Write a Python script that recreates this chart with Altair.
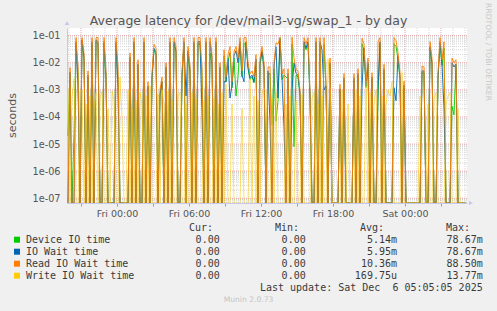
import altair as alt
import pandas as pd

# ---------------- data (10-minute samples, index 0 = Thu 19:50) ----------------
start_hour = -50 / 12          # hours relative to Fri 00:00
step_hours = 10 / 60
n_samples = 200

# (sample index, seconds); samples not listed are 0
device_io = [(0, 2e-5), (1, 4e-3), (3, 2.5e-5), (4, 5e-2), (5, 4e-3), (7, 6e-2), (8, 1.4e-2), (10, 3e-3),
             (12, 5e-2), (14, 6e-2), (15, 5e-2), (18, 5e-2), (19, 2.5e-3), (24, 5e-2), (25, 2.5e-3),
             (31, 1.4e-2), (33, 5e-2), (35, 8e-3), (38, 5e-2), (40, 1.2e-3), (42, 2.5e-3), (43, 3e-2),
             (44, 2e-2), (46, 6e-4), (47, 2e-3), (49, 6e-3), (51, 5e-2), (53, 5e-2), (54, 2.4e-2), (57, 3e-3),
             (58, 5e-2), (60, 2.4e-2), (61, 4e-3), (63, 5e-2), (65, 5e-2), (66, 5e-2), (67, 3.5e-3),
             (69, 5e-2), (71, 2.3e-2), (72, 8e-3), (74, 5e-2), (76, 6e-3), (78, 1.8e-2), (79, 2e-3),
             (80, 1.2e-2), (81, 2.4e-2), (82, 1.2e-3), (83, 1.5e-2), (84, 6e-4), (85, 3e-3), (86, 5e-2),
             (87, 3e-3), (88, 5e-2), (89, 5e-2), (90, 6e-3), (91, 2.4e-3), (92, 3e-3), (93, 1.8e-3),
             (94, 1.2e-2), (96, 9e-3), (97, 2.4e-2), (98, 6e-3), (100, 4e-3), (101, 4e-3), (102, 5e-5),
             (103, 6e-3), (104, 7e-5), (105, 4e-4), (106, 7.867e-2), (107, 2.4e-3), (108, 3.5e-3), (109, 3e-3),
             (110, 2.5e-3), (112, 5e-2), (113, 8e-6), (114, 3.5e-3), (115, 3e-3), (116, 6e-4), (118, 5e-2),
             (119, 3e-2), (120, 5e-2), (121, 5e-4), (124, 5e-2), (126, 5e-2), (128, 5e-2), (129, 1.2e-3),
             (131, 9e-3), (136, 1e-3), (138, 2.4e-3), (143, 2.4e-3), (145, 3.5e-3), (147, 5e-2), (148, 3e-2),
             (149, 1.2e-3), (150, 9e-3), (152, 2.5e-3), (155, 5e-4), (156, 5e-2), (158, 5e-3), (163, 5e-2),
             (164, 4e-2), (165, 1.4e-2), (166, 2.5e-3), (168, 1.2e-3), (177, 4.5e-3), (178, 4e-3),
             (181, 3.5e-2), (182, 9e-3), (185, 2.5e-3), (186, 5e-2), (187, 8e-3), (188, 3.5e-2),
             (192, 2.5e-4), (193, 1.2e-4), (194, 8e-3)]

io_wait = [(1, 4.5e-3), (4, 6e-2), (5, 1.5e-3), (7, 7e-2), (8, 1.6e-2), (10, 3.5e-3), (12, 6e-2), (14, 7e-2),
           (15, 6e-2), (18, 6e-2), (19, 3e-3), (24, 6e-2), (25, 1.2e-3), (31, 1.6e-2), (33, 6e-2), (35, 9e-3),
           (38, 6e-2), (40, 1.4e-3), (42, 3e-3), (43, 3.4e-2), (44, 2.5e-2), (46, 7e-4), (47, 2e-3),
           (49, 7e-3), (51, 6e-2), (53, 6e-2), (54, 2.8e-2), (57, 3.5e-3), (58, 6e-2), (59, 6e-4),
           (60, 2.8e-2), (61, 5e-3), (63, 6e-2), (65, 6e-2), (66, 6e-2), (67, 1.5e-4), (69, 6e-2), (71, 6e-2),
           (72, 1.4e-2), (74, 6e-2), (76, 7e-3), (78, 2e-3), (79, 2e-3), (80, 1.4e-2), (81, 5e-4),
           (82, 1.4e-3), (83, 1.8e-2), (84, 2.8e-2), (85, 1e-2), (86, 6e-2), (87, 3.5e-3), (88, 2e-3),
           (89, 6e-2), (90, 7e-3), (91, 2.8e-3), (92, 3.5e-3), (93, 2e-3), (94, 1.4e-2), (96, 1e-2),
           (97, 2.8e-2), (98, 7e-3), (100, 5e-3), (101, 6e-5), (103, 7e-3), (104, 3.8e-2), (105, 5e-4),
           (106, 7.867e-2), (107, 2.8e-3), (108, 4e-5), (110, 4e-3), (112, 1e-3), (113, 1e-2), (114, 4e-3),
           (115, 3.5e-3), (116, 7e-4), (118, 6e-2), (119, 3.5e-2), (120, 6e-2), (121, 6e-4), (124, 6e-2),
           (126, 6e-2), (127, 3e-2), (128, 1e-3), (129, 1.4e-3), (131, 1e-2), (136, 1.1e-3), (138, 2.8e-3),
           (143, 2.8e-3), (145, 4e-3), (147, 1.2e-3), (148, 3.5e-2), (149, 1.4e-3), (150, 1e-2), (152, 3e-3),
           (155, 1.2e-3), (156, 6e-2), (158, 6e-3), (163, 1.2e-3), (164, 4e-4), (165, 1.7e-2), (166, 3e-3),
           (168, 1.5e-3), (177, 5e-3), (178, 5e-3), (181, 4e-2), (182, 1e-2), (185, 3e-3), (186, 6e-2),
           (187, 9e-3), (188, 2e-4), (192, 1e-2), (193, 7e-3), (194, 9e-3)]

read_wait = [(1, 6.6e-3), (4, 8.5e-2), (5, 7e-3), (7, 8.5e-2), (8, 2.3e-2), (10, 5e-3), (12, 8.5e-2),
             (14, 8.5e-2), (15, 8.5e-2), (18, 8.5e-2), (19, 4.3e-3), (24, 8.5e-2), (25, 7e-3), (31, 2.3e-2),
             (33, 8.5e-2), (35, 1.3e-2), (38, 8.5e-2), (40, 2e-3), (42, 4.3e-3), (43, 4.8e-2), (44, 3.5e-2),
             (46, 1e-3), (47, 3e-3), (49, 1e-2), (51, 8.5e-2), (53, 8.5e-2), (54, 4e-2), (57, 5e-3),
             (58, 8.5e-2), (60, 4e-2), (61, 7e-3), (63, 8.5e-2), (65, 8.5e-2), (66, 8.5e-2), (67, 6e-3),
             (69, 8.5e-2), (71, 8.5e-2), (72, 2e-2), (74, 8.5e-2), (76, 1e-2), (78, 3e-2), (79, 3e-3),
             (80, 2e-2), (81, 4e-2), (82, 2e-3), (83, 2.5e-2), (84, 4e-2), (85, 1.5e-2), (86, 8.5e-2),
             (87, 5e-3), (88, 8.5e-2), (89, 8.5e-2), (90, 1e-2), (91, 4e-3), (92, 5e-3), (93, 3e-3),
             (94, 2e-2), (96, 1.5e-2), (97, 4e-2), (98, 1e-2), (100, 7e-3), (101, 7e-3), (103, 1e-2),
             (104, 5.5e-2), (105, 4.8e-2), (106, 8.85e-2), (107, 4e-3), (108, 6e-3), (110, 6e-3),
             (112, 8.8e-2), (113, 1.5e-2), (114, 6e-3), (115, 5e-3), (116, 1e-3), (118, 8.5e-2), (119, 5e-2),
             (120, 8.5e-2), (121, 8e-4), (124, 8.5e-2), (126, 8.5e-2), (128, 8.5e-2), (129, 2e-3),
             (131, 1.5e-2), (136, 1.6e-3), (138, 4e-3), (143, 4e-3), (145, 6e-3), (147, 8e-2), (148, 5e-2),
             (149, 2e-3), (150, 1.5e-2), (152, 4.3e-3), (155, 6e-2), (156, 8.5e-2), (158, 8.8e-3),
             (163, 8.5e-2), (164, 6.5e-2), (165, 2.4e-2), (166, 4.3e-3), (168, 2.1e-3), (177, 7.6e-3),
             (178, 7e-3), (181, 6e-2), (182, 1.5e-2), (185, 4.3e-3), (186, 8.5e-2), (187, 1.3e-2),
             (188, 6e-2), (192, 1.5e-2), (193, 1e-2), (194, 1.3e-2)]

write_wait = [(0, 1.2e-3), (2, 5e-4), (3, 2.6e-3), (6, 9e-4), (7, 1e-3), (9, 3e-4), (11, 6e-4), (13, 2e-4),
              (14, 8e-4), (16, 5e-4), (17, 9e-4), (20, 2e-4), (22, 9e-4), (23, 4e-4), (26, 3e-3), (27, 1e-4),
              (30, 1e-3), (32, 2e-4), (34, 4e-4), (36, 8e-4), (37, 3e-4), (39, 6e-4), (41, 1.4e-3), (45, 7e-4),
              (47, 1e-3), (48, 3e-4), (50, 9e-4), (52, 4e-4), (55, 6e-4), (56, 8e-4), (59, 3e-4), (62, 8e-4),
              (64, 5e-4), (68, 4e-4), (70, 6e-4), (73, 5e-4), (75, 3e-4), (77, 8e-4), (79, 1.6e-3), (82, 3e-4),
              (87, 2e-4), (91, 2.5e-3), (93, 6e-4), (95, 4e-4), (97, 8e-4), (98, 1.1e-3), (99, 9e-4),
              (102, 5e-4), (104, 8e-4), (109, 3e-4), (111, 6e-4), (114, 4e-4), (117, 7e-4), (122, 5e-4),
              (123, 8e-4), (125, 3e-4), (127, 6e-4), (130, 1.377e-2), (131, 8e-4), (137, 1e-3), (140, 3e-4),
              (144, 1e-3), (146, 6e-4), (149, 2.1e-3), (151, 8e-4), (153, 3e-4), (154, 1e-3), (157, 6e-4),
              (159, 3e-4), (160, 1e-3), (161, 6e-4), (162, 2e-3), (167, 4.3e-3), (176, 6e-4), (180, 3e-4),
              (183, 5e-4), (184, 8e-4), (189, 3e-4), (190, 6e-4), (191, 8e-4), (195, 2e-4)]

series_names = ["Device IO time", "IO Wait time", "Read IO Wait time", "Write IO Wait time"]
series_colors = ["#00cc00", "#0066b3", "#ff8000", "#ffcc00"]
series_points = [device_io, io_wait, read_wait, write_wait]
series_opacity = [0.9, 0.9, 0.9, 0.6]

cur_vals = ["0.00", "0.00", "0.00", "0.00"]
min_vals = ["0.00", "0.00", "0.00", "0.00"]
avg_vals = ["5.14m", "5.95m", "10.36m", "169.75u"]
max_vals = ["78.67m", "78.67m", "88.50m", "13.77m"]

y_decades = [1e-7, 1e-6, 1e-5, 1e-4, 1e-3, 1e-2, 1e-1]
x_tick_hours = [0, 6, 12, 18, 24]
x_tick_labels = ["Fri 00:00", "Fri 06:00", "Fri 12:00", "Fri 18:00", "Sat 00:00"]

title_text = "Average latency for /dev/mail3-vg/swap_1 - by day"
last_update = "Last update: Sat Dec \u00a06 05:05:05 2025"
footer = "Munin 2.0.73"
side_text = "RRDTOOL / TOBI OETIKER"

# ---------------- tables ----------------
rows = []
for name, pts in zip(series_names, series_points):
    d = dict(pts)
    for i in range(n_samples):
        rows.append({"series": name, "t": start_hour + (i + 0.5) * step_hours, "v": d.get(i, 0.0)})
df = pd.DataFrame(rows)

W, H = 400, 175
x_dom = [start_hour, start_hour + 400 / 12]
y_dom = [6.7e-8, 0.192]
x_scale = alt.Scale(domain=x_dom, nice=False, zero=False)
y_scale = alt.Scale(type="log", domain=y_dom, nice=False, clamp=True)

lbl = " : ".join(f"datum.value == {h} ? '{s}'" for h, s in zip(x_tick_hours, x_tick_labels)) + " : ''"
x_axis = alt.Axis(values=list(range(-3, 30, 3)), labelExpr=lbl, grid=False, title=None,
                  domainColor="#c8c8ee", tickColor="#e08080", tickSize=3, labelPadding=2,
                  labelBaseline="top", labelFont="DejaVu Sans", labelFontSize=9.5, labelColor="#555555",
                  labelOverlap=False, labelFlush=False)
y_axis = alt.Axis(values=y_decades, labelExpr="'1e-0' + round(-log(datum.value) / LN10)", grid=False,
                  ticks=False, domainColor="#c8c8ee", labelPadding=7, labelFont="DejaVu Sans",
                  labelFontSize=9.7, labelColor="#555555", title="seconds", titleFont="DejaVu Sans",
                  titleFontSize=11, titleFontWeight="normal", titleColor="#555555", titleAngle=270,
                  titleX=-55, titleY=87, titleAlign="center", titleBaseline="middle")

def X(field):
    return alt.X(field, type="quantitative", scale=x_scale, axis=x_axis)

def Y(field):
    return alt.Y(field, type="quantitative", scale=y_scale, axis=y_axis)

minor_x = pd.DataFrame({"gx": [h for h in range(-4, 30) if h % 3 != 0]})
major_x = pd.DataFrame({"gx": [h for h in range(-3, 30, 3)]})
minor_y = pd.DataFrame({"gy": [k * d for d in [1e-8, 1e-7, 1e-6, 1e-5, 1e-4, 1e-3, 1e-2, 1e-1]
                               for k in range(2, 10) if y_dom[0] <= k * d <= y_dom[1]]})
major_y = pd.DataFrame({"gy": y_decades})

grid_minor = "#d4d4d4"
grid_major = "#e4a4a4"
layers = [
    alt.Chart(minor_x).mark_rule(color=grid_minor, strokeDash=[1, 1], strokeWidth=1).encode(x=X("gx")),
    alt.Chart(minor_y).mark_rule(color=grid_minor, strokeDash=[1, 1], strokeWidth=1).encode(y=Y("gy")),
    alt.Chart(major_x).mark_rule(color=grid_major, strokeDash=[1, 1], strokeWidth=1).encode(x=X("gx")),
    alt.Chart(major_y).mark_rule(color=grid_major, strokeDash=[1, 1], strokeWidth=1).encode(y=Y("gy")),
]
for name, col, op in zip(series_names, series_colors, series_opacity):
    layers.append(
        alt.Chart(df).transform_filter(alt.datum.series == name)
        .transform_calculate(vv="max(datum.v, 1e-9)")
        .mark_line(color=col, strokeWidth=1, opacity=op, clip=True, interpolate="linear")
        .encode(x=X("t"), y=Y("vv"), order="t:Q")
    )
main = alt.layer(*layers)

# ---------------- legend / texts ----------------
leg = pd.DataFrame({"row": list(range(4)), "name": series_names, "color": series_colors,
                    "cur": cur_vals, "min": min_vals, "avg": avg_vals, "max": max_vals})
ly_scale = alt.Scale(domain=[-1, 5], range=[199.7, 271.7])
LY = alt.Y("row:Q", scale=ly_scale, axis=None)
mono = dict(font="DejaVu Sans Mono", fontSize=10, color="#3a3a3a", baseline="middle")

one = pd.DataFrame({"row": [0]})
leg_layers = [
    alt.Chart(leg).mark_square(size=36, opacity=1, filled=True).encode(
        x=alt.value(-50), y=LY, color=alt.Color("color:N", scale=None)),
    alt.Chart(leg).mark_text(align="left", **mono).encode(x=alt.value(-41), y=LY, text="name:N"),
]
for field, xr in zip(["cur", "min", "avg", "max"], [152.7, 238.7, 330, 415.7]):
    leg_layers.append(alt.Chart(leg).mark_text(align="right", **mono).encode(
        x=alt.value(xr), y=LY, text=f"{field}:N"))
hdr = pd.DataFrame({"row": [-1] * 4, "h": ["Cur:", "Min:", "Avg:", "Max:"]})
for k, xr in enumerate([146, 232, 317, 403]):
    leg_layers.append(alt.Chart(hdr.iloc[[k]]).mark_text(align="right", **mono).encode(
        x=alt.value(xr), y=LY, text="h:N"))
txt = pd.DataFrame({"row": [4, 5], "s": [last_update, footer]})
leg_layers += [
    alt.Chart(txt.iloc[[0]]).mark_text(align="right", **mono).encode(x=alt.value(415.7), y=LY, text="s:N"),
    alt.Chart(txt.iloc[[1]]).mark_text(align="center", baseline="middle", font="DejaVu Sans",
                                         fontSize=7.6, color="#c4c4c4").encode(
        x=alt.value(181.5), y=LY, text="s:N"),
    alt.Chart(pd.DataFrame({"s": [side_text]})).mark_text(
        align="center", baseline="middle", angle=90, font="DejaVu Sans", fontSize=7.6,
        color="#c8c8c8").encode(x=alt.value(421), y=alt.value(24), text="s:N"),
    alt.Chart(pd.DataFrame({"s": [title_text]})).mark_text(
        align="center", baseline="alphabetic", font="DejaVu Sans", fontSize=12.5,
        color="#555555").encode(x=alt.value(181.5), y=alt.value(-3), text="s:N"),
    alt.Chart(one).mark_point(shape="triangle-up", filled=True, size=22, color="#c8c8ee", opacity=1).encode(
        x=alt.value(0), y=alt.value(-5)),
    alt.Chart(one).mark_point(shape="triangle-right", filled=True, size=22, color="#c8c8ee", opacity=1).encode(
        x=alt.value(404), y=alt.value(175)),
]
legend = alt.layer(*leg_layers)

chart = alt.layer(main, legend).resolve_scale(y="independent").properties(
    width=W, height=H, background="#f0f0f0",
    padding={"left": 67, "top": 28, "right": 30, "bottom": 108},
    autosize=alt.AutoSizeParams(type="none"),
).configure_view(fill="white", stroke=None)

chart.save("out.html", embed_options={"renderer": "svg", "actions": False})
